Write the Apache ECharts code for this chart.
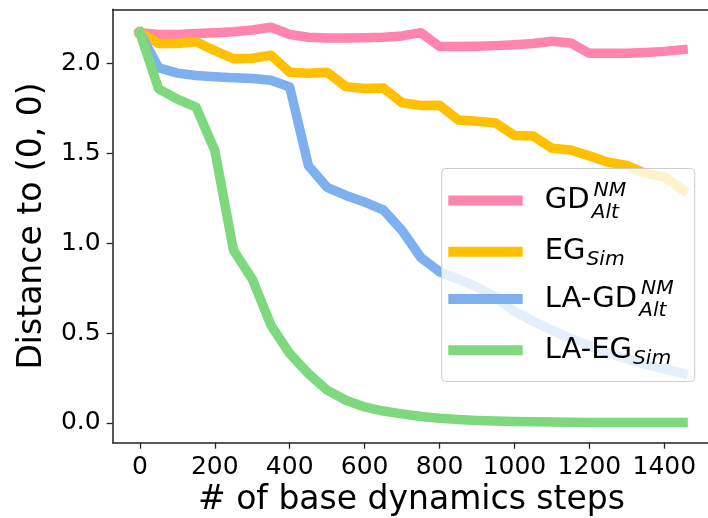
<!DOCTYPE html>
<html lang="en">
<head>
    <meta charset="utf-8">
    <title>Distance to (0, 0)</title>
    <script src="https://cdn.jsdelivr.net/npm/echarts@6/dist/echarts.min.js" type="text/javascript" charset="utf-8"></script>
    <style>
        html, body { margin: 0; padding: 0; background: #fff; }
        #chart { width: 708px; height: 518px; }
    </style>
</head>
<body>
<div id="chart"></div>
<script type="text/javascript">
    // x: number of base dynamics steps
    var steps = [0, 50, 100, 150, 200, 250, 300, 350, 400, 450, 500, 550, 600, 650, 700,
        750, 800, 850, 900, 950, 1000, 1050, 1100, 1150, 1200, 1250, 1300, 1350, 1400, 1450];

    var gdAlt = [2.17, 2.16, 2.16, 2.165, 2.17, 2.175, 2.185, 2.20, 2.16, 2.145, 2.14, 2.14, 2.142, 2.145, 2.152,
        2.17, 2.093, 2.093, 2.095, 2.098, 2.103, 2.11, 2.122, 2.113, 2.055, 2.055, 2.056, 2.06, 2.066, 2.076];
    var egSim = [2.17, 2.11, 2.11, 2.12, 2.07, 2.025, 2.028, 2.045, 1.95, 1.945, 1.95, 1.87, 1.86, 1.862, 1.78,
        1.765, 1.767, 1.685, 1.677, 1.668, 1.598, 1.595, 1.527, 1.518, 1.485, 1.45, 1.432, 1.388, 1.368, 1.295];
    var laGdAlt = [2.17, 1.975, 1.945, 1.932, 1.925, 1.92, 1.915, 1.905, 1.868, 1.43, 1.31, 1.265, 1.228, 1.185, 1.07,
        0.92, 0.84, 0.80, 0.755, 0.70, 0.62, 0.565, 0.515, 0.47, 0.43, 0.39, 0.355, 0.325, 0.30, 0.275];
    var laEgSim = [2.17, 1.858, 1.80, 1.756, 1.515, 0.96, 0.80, 0.543, 0.386, 0.274, 0.182, 0.126, 0.089, 0.066, 0.05,
        0.036, 0.026, 0.019, 0.014, 0.010, 0.008, 0.006, 0.005, 0.004, 0.003, 0.003, 0.002, 0.002, 0.002, 0.002];

    var xTicks = [0, 200, 400, 600, 800, 1000, 1200, 1400];
    var yTicks = [0, 0.5, 1.0, 1.5, 2.0];

    var seriesNames = ['GD_Alt^NM', 'EG_Sim', 'LA-GD_Alt^NM', 'LA-EG_Sim'];
    var seriesColors = ['#ff85ac', '#ffc000', '#7eb0f0', '#7ed87e'];
    var seriesValues = [gdAlt, egSim, laGdAlt, laEgSim];

    // legend labels as rich text (base + stacked sub/superscript)
    var legendLabels = {
        'GD_Alt^NM': '{b|GD}{sub|Alt}{sup|NM}',
        'EG_Sim': '{b|EG}{sub2|Sim}',
        'LA-GD_Alt^NM': '{b|LA-GD}{sub|Alt}{sup|NM}',
        'LA-EG_Sim': '{b|LA-EG}{sub2|Sim}'
    };

    var FONT = 'DejaVu Sans';
    var SPINE = { color: '#222', width: 1.5 };

    function pairs(xs, ys) {
        var out = [];
        for (var i = 0; i < xs.length; i++) out.push([xs[i], ys[i]]);
        return out;
    }

    var series = [];
    for (var i = 0; i < seriesNames.length; i++) {
        series.push({
            name: seriesNames[i],
            type: 'line',
            data: pairs(steps, seriesValues[i]),
            color: seriesColors[i],
            symbol: 'none',
            showSymbol: false,
            lineStyle: { width: 9.5, cap: 'square', join: 'round', color: seriesColors[i] },
            emphasis: { disabled: true }
        });
    }

    var scriptBase = { fontFamily: FONT, fontSize: 20.3, fontStyle: 'italic', color: '#000',
        verticalAlign: 'top', height: 20, lineHeight: 44 };

    var option = {
        animation: false,
        grid: {
            left: 112.7, right: -2.2, top: 9.3, bottom: 75.3,
            outerBoundsMode: 'none',
            containLabel: false
        },
        xAxis: [{
            type: 'value',
            min: -72.5,
            max: 1522.5,
            name: '# of base dynamics steps',
            nameLocation: 'middle',
            nameGap: 40.5,
            nameTextStyle: { fontFamily: FONT, fontSize: 33, color: '#000' },
            axisLine: { show: true, onZero: false, lineStyle: SPINE },
            splitLine: { show: false },
            axisTick: { show: true, length: 6, lineStyle: { color: '#222', width: 1.3 }, customValues: xTicks },
            axisLabel: {
                fontFamily: FONT, fontSize: 25, color: '#000', margin: 11.8, customValues: xTicks,
                formatter: function (v) { return String(v); }
            }
        }, {
            // top spine only
            type: 'value',
            position: 'top',
            min: -72.5,
            max: 1522.5,
            axisLine: { show: true, onZero: false, lineStyle: SPINE },
            axisTick: { show: false },
            axisLabel: { show: false },
            splitLine: { show: false }
        }],
        yAxis: {
            type: 'value',
            min: -0.11,
            max: 2.30,
            name: 'Distance to (0, 0)',
            nameLocation: 'middle',
            nameGap: 64,
            nameTextStyle: { fontFamily: FONT, fontSize: 33, color: '#000' },
            axisLine: { show: true, onZero: false, lineStyle: SPINE },
            splitLine: { show: false },
            axisTick: { show: true, length: 6, lineStyle: { color: '#222', width: 1.3 }, customValues: yTicks },
            axisLabel: {
                fontFamily: FONT, fontSize: 25, color: '#000', margin: 12, customValues: yTicks,
                formatter: function (v) { return v.toFixed(1); }
            }
        },
        legend: {
            orient: 'vertical',
            left: 441.7,
            top: 168.5,
            data: seriesNames,
            icon: 'rect',
            itemWidth: 74.4,
            itemHeight: 10,
            itemGap: 7.2,
            padding: [10, 21, 13, 6.6],
            selectedMode: false,
            backgroundColor: 'rgba(255,255,255,0.8)',
            borderColor: '#cccccc',
            borderWidth: 1,
            borderRadius: 4,
            formatter: function (name) { return legendLabels[name]; },
            textStyle: {
                rich: {
                    b: { fontFamily: FONT, fontSize: 29, color: '#000', verticalAlign: 'top',
                        height: 20, lineHeight: 44, padding: [12, 0, 0, 17] },
                    sub: Object.assign({}, scriptBase, { width: 1, padding: [24, 0, 0, 2] }),
                    sup: Object.assign({}, scriptBase, { padding: [2, 0, 0, 1] }),
                    sub2: Object.assign({}, scriptBase, { padding: [20.2, 0, 0, 1] })
                }
            }
        },
        series: series
    };

    var myChart = echarts.init(document.getElementById('chart'), null, { renderer: 'canvas' });
    myChart.setOption(option);
</script>
</body>
</html>
